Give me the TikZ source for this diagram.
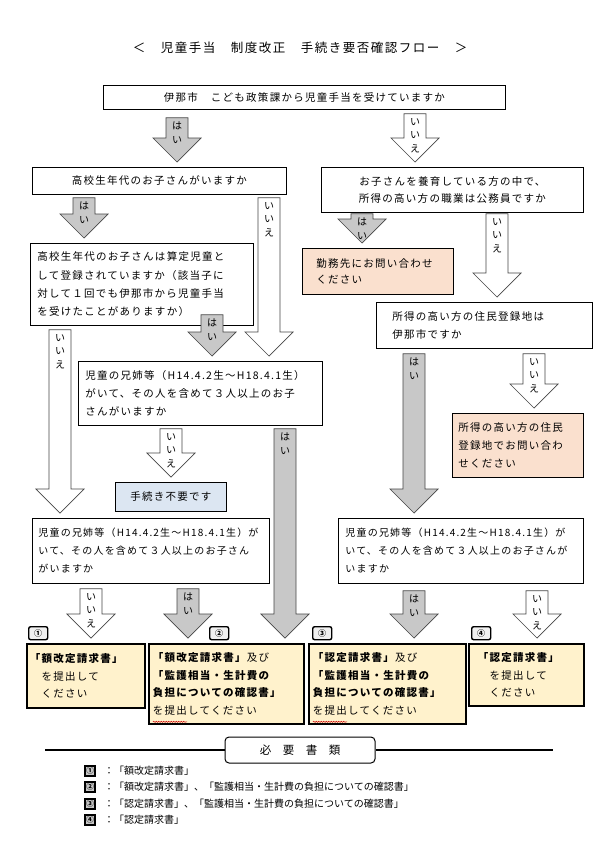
\documentclass[tikz,border=0pt]{standalone}
\usepackage{fontspec}
\setmainfont{Noto Sans CJK JP}
\newfontfamily\boxfont[LetterSpace=12]{Noto Sans CJK JP}
\usepackage{tikz}
\usetikzlibrary{calc,decorations.pathmorphing}
\definecolor{peach}{RGB}{250,224,206}
\definecolor{lightblue}{RGB}{220,230,242}
\definecolor{cream}{RGB}{255,242,204}
\definecolor{arrowgray}{RGB}{200,200,200}
\definecolor{edgegray}{RGB}{70,70,70}

\tikzset{
  qbox/.style={draw=black, line width=0.8pt, fill=white, anchor=north west, inner ysep=0pt, inner xsep=7pt, align=left, font=\boxfont\fontsize{10.5}{18}\selectfont},
  resbox/.style={qbox, fill=cream, line width=1.8pt, font=\boxfont\fontsize{10.5}{17.5}\selectfont},
  tagbox/.style={draw=black, line width=1.4pt, fill=gray!12, rounded corners=2pt, anchor=north west, inner sep=0pt, minimum width=19pt, minimum height=13pt, font=\bfseries\fontsize{8}{8}\selectfont},
  keybox/.style={draw=black, line width=1.2pt, fill=gray!45, minimum size=10pt, inner sep=0pt, font=\bfseries\fontsize{7.5}{7.5}\selectfont},
  keytext/.style={anchor=west, inner sep=0pt, font=\fontsize{10}{10}\selectfont},
  yesarrow/.style={draw=edgegray, line width=0.7pt, fill=arrowgray},
  noarrow/.style={draw=edgegray, line width=0.7pt, fill=white},
  arrowlabel/.style={anchor=north, inner sep=0pt, align=center, font=\fontsize{10}{13.5}\selectfont},
  squiggle/.style={red!80!black, line width=0.5pt, decorate, decoration={snake, amplitude=0.6pt, segment length=2.5pt}}
}

\newcommand{\flowarrow}[6][4]{%
  \draw[#2] let \p1=($(#3,0 |- #4.south)+(0,#1)$), \p2=($(#3,0 |- #5.north)+(0,-5)$) in
    (\x1-11pt,\y1) -- (\x1+11pt,\y1) -- (\x1+11pt,\y2+24pt) -- (\x1+24pt,\y2+24pt)
    -- (\x1,\y2) -- (\x1-24pt,\y2+24pt) -- (\x1-11pt,\y2+24pt) -- cycle
    (\x1,\y1-4pt) node[arrowlabel] {#6};}

\begin{document}
\begin{tikzpicture}[x=1pt, y=-1pt]
\fill[white] (0,0) rectangle (600,849);
\useasboundingbox (0,0) rectangle (600,849);

\node[font=\boxfont\fontsize{12.5}{12.5}\selectfont] (title) at (300,48) {＜　児童手当　制度改正　手続き要否確認フロー　＞};

\node[qbox, text width=388pt, minimum height=24pt, align=center] (ask) at (103,85) {伊那市　こども政策課から児童手当を受けていますか};
\node[qbox, text width=240pt, minimum height=27pt, align=center] (kou) at (32,167) {高校生年代のお子さんがいますか};
\node[qbox, text width=248pt, minimum height=45pt, align=center, font=\boxfont\fontsize{10.5}{17}\selectfont] (koumu) at (321,167) {お子さんを養育している方の中で、\\所得の高い方の職業は公務員ですか};
\node[qbox, text width=209pt, minimum height=82pt, font=\boxfont\fontsize{10.5}{18.3}\selectfont] (santei) at (30,243) {高校生年代のお子さんは算定児童と\\して登録されていますか（該当子に\\対して１回でも伊那市から児童手当\\を受けたことがありますか）};
\node[qbox, fill=peach, inner xsep=14pt, text width=123pt, minimum height=46pt, font=\boxfont\fontsize{10.5}{16.5}\selectfont] (kinmu) at (302,248) {勤務先にお問い合わせ\\ください};
\node[qbox, inner xsep=16pt, text width=184pt, minimum height=46pt] (juumin) at (376,302) {所得の高い方の住民登録地は\\伊那市ですか};
\node[qbox, text width=230pt, minimum height=64pt] (kyoudai1) at (78,361) {児童の兄姉等（H14.4.2生～H18.4.1生）\\がいて、その人を含めて３人以上のお子\\さんがいますか};
\node[qbox, fill=peach, inner xsep=6pt, text width=119pt, minimum height=64pt] (toiawase) at (452,413) {所得の高い方の住民\\登録地でお問い合わ\\せください};
\node[qbox, fill=lightblue, text width=97pt, minimum height=29pt, align=center] (fuyou) at (115,482) {手続き不要です};
\node[qbox, inner xsep=6pt, text width=225pt, minimum height=65pt, font=\boxfont\fontsize{10}{18}\selectfont] (kyoudai2) at (32,518) {児童の兄姉等（H14.4.2生～H18.4.1生）が\\いて、その人を含めて３人以上のお子さん\\がいますか};
\node[qbox, text width=231pt, minimum height=65pt, font=\boxfont\fontsize{10}{18}\selectfont] (kyoudai3) at (338,518) {児童の兄姉等（H14.4.2生～H18.4.1生）が\\いて、その人を含めて３人以上のお子さんが\\いますか};

\node[resbox, inner xsep=3pt, text width=112pt, minimum height=64pt] (res1) at (26,643) {\textbf{「額改定請求書」}\\　を提出して\\　ください};
\node[resbox, inner xsep=4pt, text width=147pt, minimum height=80pt] (res2) at (148,643) {\textbf{「額改定請求書」}及び\\\textbf{「監護相当・生計費の}\\\textbf{負担についての確認書」}\\を提出してください};
\node[resbox, inner xsep=4pt, text width=149pt, minimum height=80pt] (res3) at (308,643) {\textbf{「認定請求書」}及び\\\textbf{「監護相当・生計費の}\\\textbf{負担についての確認書」}\\を提出してください};
\node[resbox, inner xsep=9pt, text width=97pt, minimum height=62pt] (res4) at (468,643) {\textbf{「認定請求書」}\\　を提出して\\　ください};
\draw[squiggle] ($(res2.south west)+(5,-3)$) -- +(34,0);
\draw[squiggle] ($(res3.south west)+(5,-3)$) -- +(34,0);

\node[tagbox] (tag1) at (28,626) {①};
\node[tagbox] (tag2) at (209,626) {②};
\node[tagbox] (tag3) at (312,626) {③};
\node[tagbox] (tag4) at (471,626) {④};

\flowarrow[8]{yesarrow}{177}{ask}{kou}{は\\い}
\flowarrow{noarrow}{415}{ask}{koumu}{い\\い\\え}
\flowarrow[3]{yesarrow}{84}{kou}{santei}{は\\い}
\flowarrow[3]{noarrow}{269}{kou}{kyoudai1}{い\\い\\え}
\flowarrow[1]{yesarrow}{362}{koumu}{kinmu}{は\\い}
\flowarrow[1]{noarrow}{497}{koumu}{juumin}{い\\い\\え}
\flowarrow[-11]{yesarrow}{212}{santei}{kyoudai1}{は\\い}
\flowarrow{noarrow}{60}{santei}{kyoudai2}{い\\い\\え}
\flowarrow[5]{yesarrow}{414}{juumin}{kyoudai3}{は\\い}
\flowarrow[5]{noarrow}{534}{juumin}{toiawase}{い\\い\\え}
\flowarrow[3]{noarrow}{171}{kyoudai1}{fuyou}{い\\い\\え}
\flowarrow[3]{yesarrow}{285}{kyoudai1}{res2}{は\\い}
\flowarrow[5]{noarrow}{91}{kyoudai2}{res1}{い\\い\\え}
\flowarrow[5]{yesarrow}{188}{kyoudai2}{res2}{は\\い}
\flowarrow[7]{yesarrow}{414}{kyoudai3}{res3}{は\\い}
\flowarrow[7]{noarrow}{537}{kyoudai3}{res4}{い\\い\\え}

\node[draw=black, line width=1pt, fill=white, rounded corners=4pt, minimum width=150pt, minimum height=26pt, inner sep=0pt, font=\fontsize{11.5}{11.5}\selectfont] (docs) at (300,750) {必　要　書　類};
\coordinate (ruleL) at (45,750);
\coordinate (ruleR) at (553,750);
\draw[line width=1.2pt] (ruleL) -- (docs.west);
\draw[line width=1.2pt] (docs.east) -- (ruleR);

\node[keybox] (key1) at (90,771) {①};
\node[keybox] (key2) at (90,787) {②};
\node[keybox] (key3) at (90,804) {③};
\node[keybox] (key4) at (90,820) {④};
\node[keytext] (doc1) at (104,771) {：「額改定請求書」};
\node[keytext] (doc2) at (104,787) {：「額改定請求書」、「監護相当・生計費の負担についての確認書」};
\node[keytext] (doc3) at (104,804) {：「認定請求書」、「監護相当・生計費の負担についての確認書」};
\node[keytext] (doc4) at (104,820) {：「認定請求書」};
\end{tikzpicture}
\end{document}
